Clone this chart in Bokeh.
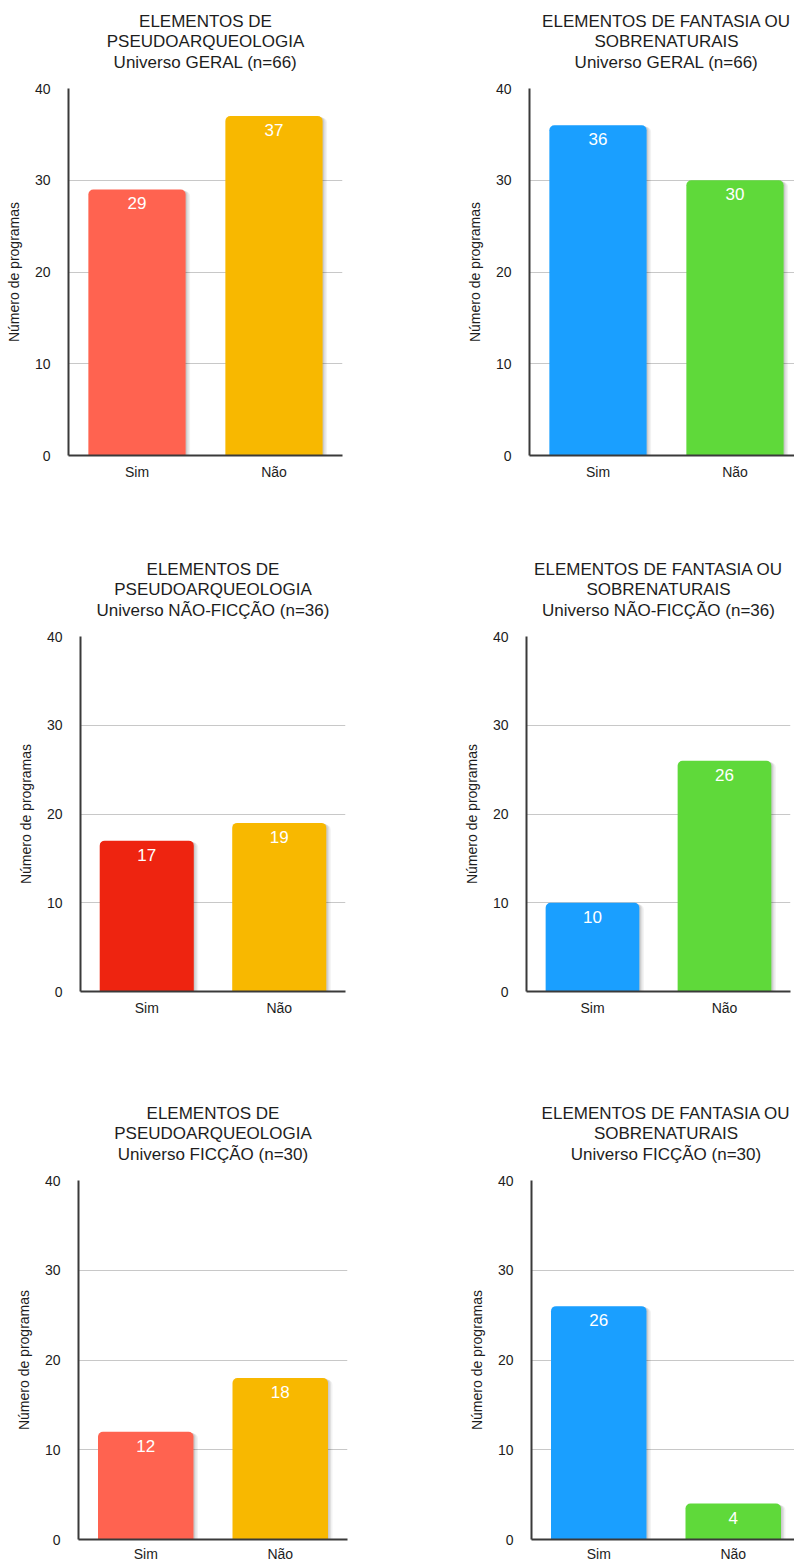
from bokeh.plotting import figure
from bokeh.models import ColumnDataSource, Range1d, FixedTicker, LabelSet
from bokeh.layouts import column, row
from bokeh.transform import dodge
from bokeh.core.properties import value
from bokeh.embed import file_html
from bokeh.resources import INLINE

# ---- data -------------------------------------------------------------
categories = ["Sim", "Não"]
y_ticks = [0, 10, 20, 30, 40]

pseudo_geral = [29, 37]
fantasia_geral = [36, 30]
pseudo_nao_ficcao = [17, 19]
fantasia_nao_ficcao = [10, 26]
pseudo_ficcao = [12, 18]
fantasia_ficcao = [26, 4]

title_pseudo = ["ELEMENTOS DE", "PSEUDOARQUEOLOGIA"]
title_fantasia = ["ELEMENTOS DE FANTASIA OU", "SOBRENATURAIS"]
universo_geral = "Universo GERAL (n=66)"
universo_nao_ficcao = "Universo NÃO-FICÇÃO (n=36)"
universo_ficcao = "Universo FICÇÃO (n=30)"

y_label = "Número de programas"

# ---- style ------------------------------------------------------------
CORAL = "#FF6350"
GOLD = "#F8B800"
RED = "#EE2410"
BLUE = "#1A9FFF"
GREEN = "#5FD93A"

FONT = "Liberation Sans"
TEXT = "#1d1d1d"
AXIS = "#3a3a3a"
GRID = "#c8c8c8"
BAR_W = 0.71
Y_MAX = 40
TITLE_BASELINES = [67, 47, 26.5]   # px above the plot frame
CHART_TOP = 12                     # room above the frame for the "40" label


def make_chart(values, colors, title_lines, width, height,
               left, right, top, bottom, full_frame_w, label_standoff=8):
    """Title strip plus bar panel; the frame may be cut at the page edge."""
    frame_w = width - left - right
    frame_h = height - top - bottom
    n = len(categories)
    x_range = Range1d(-0.5, -0.5 + n * frame_w / full_frame_w)
    strip_h = top - CHART_TOP

    # --- title strip (shares the x mapping of the chart below) ---
    t = figure(width=width, height=strip_h, x_range=x_range,
               y_range=Range1d(0, strip_h), output_backend="svg",
               toolbar_location=None, min_border_left=left,
               min_border_right=right, min_border_top=0, min_border_bottom=0)
    t.axis.visible = False
    t.grid.visible = False
    t.outline_line_color = None
    t.border_fill_color = "white"
    tsrc = ColumnDataSource(dict(
        x=[(n - 1) / 2] * len(title_lines),
        y=[b - CHART_TOP for b in TITLE_BASELINES],
        text=title_lines))
    t.text(x="x", y="y", text="text", source=tsrc, text_align="center",
           text_baseline="alphabetic", text_color=TEXT,
           text_font=value(FONT), text_font_size=value("17px"))

    # --- bar chart ---
    p = figure(width=width, height=height - strip_h,
               x_range=x_range, y_range=Range1d(0, Y_MAX),
               output_backend="svg", toolbar_location=None,
               min_border_left=left, min_border_right=right,
               min_border_top=CHART_TOP, min_border_bottom=bottom)
    p.outline_line_color = None
    p.background_fill_color = "white"
    p.border_fill_color = "white"

    xs = list(range(n))
    src = ColumnDataSource(dict(x=xs, value=values, color=colors,
                                label=[str(v) for v in values]))

    # soft drop shadow to the lower right of each bar
    px_x = full_frame_w / n
    px_y = frame_h / Y_MAX
    for d, a in [(4.5, 0.05), (3.0, 0.07), (1.5, 0.09)]:
        p.vbar(x=dodge("x", d / px_x), top=dodge("value", -d * 0.4 / px_y),
               bottom=0, width=BAR_W, source=src,
               fill_color="black", fill_alpha=a, line_color=None,
               border_radius=(5, 5, 0, 0))

    p.vbar(x="x", top="value", bottom=0, width=BAR_W, source=src,
           fill_color="color", line_color=None, border_radius=(5, 5, 0, 0))

    p.add_layout(LabelSet(x="x", y="value", text="label", source=src,
                          y_offset=-20, text_align="center",
                          text_baseline="alphabetic", text_color="white",
                          text_font=value(FONT), text_font_size="17px"))

    # axes
    p.xaxis.ticker = FixedTicker(ticks=xs)
    p.xaxis.major_label_overrides = {i: c for i, c in enumerate(categories)}
    p.yaxis.ticker = FixedTicker(ticks=y_ticks)
    for ax in (p.xaxis, p.yaxis):
        ax.axis_line_color = AXIS
        ax.axis_line_width = 2
        ax.major_tick_line_color = None
        ax.minor_tick_line_color = None
        ax.major_tick_out = 0
        ax.major_tick_in = 0
        ax.minor_tick_out = 0
        ax.major_label_text_font = FONT
        ax.major_label_text_font_size = "14px"
        ax.major_label_text_color = TEXT
    p.xaxis.major_label_standoff = label_standoff
    p.yaxis.major_label_standoff = 18
    p.yaxis.axis_label = y_label
    p.yaxis.axis_label_text_font = FONT
    p.yaxis.axis_label_text_font_size = "14px"
    p.yaxis.axis_label_text_font_style = "normal"
    p.yaxis.axis_label_text_color = TEXT
    p.yaxis.axis_label_standoff = 10

    p.xgrid.grid_line_color = None
    p.ygrid.ticker = FixedTicker(ticks=y_ticks)
    p.ygrid.grid_line_color = GRID
    p.ygrid.grid_line_width = 1
    return column(t, p, spacing=0)


c1 = make_chart(pseudo_geral, [CORAL, GOLD], title_pseudo + [universo_geral],
                400, 540, 68, 58, 88, 85, 274)
c2 = make_chart(fantasia_geral, [BLUE, GREEN], title_fantasia + [universo_geral],
                394, 540, 129, 0, 88, 85, 274)
c3 = make_chart(pseudo_nao_ficcao, [RED, GOLD], title_pseudo + [universo_nao_ficcao],
                400, 547, 80, 55, 96, 96, 265)
c4 = make_chart(fantasia_nao_ficcao, [BLUE, GREEN], title_fantasia + [universo_nao_ficcao],
                394, 547, 126, 4, 96, 96, 264)
c5 = make_chart(pseudo_ficcao, [CORAL, GOLD], title_pseudo + [universo_ficcao],
                400, 477, 78, 53, 93, 24, 269, label_standoff=6)
c6 = make_chart(fantasia_ficcao, [BLUE, GREEN], title_fantasia + [universo_ficcao],
                394, 477, 131, 0, 93, 24, 269, label_standoff=6)

layout = column(row(c1, c2, spacing=0), row(c3, c4, spacing=0),
                row(c5, c6, spacing=0), spacing=0)

open("out.html", "w").write(file_html(layout, INLINE))
